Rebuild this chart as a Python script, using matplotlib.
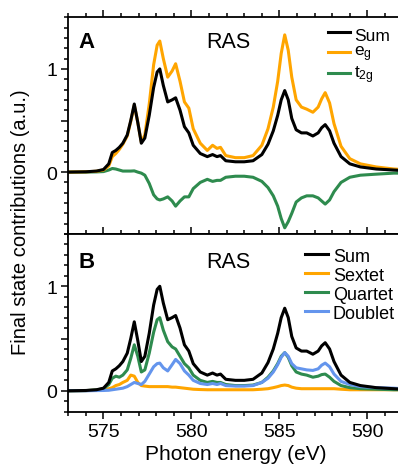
import numpy as np
import matplotlib
matplotlib.use("Agg")
import matplotlib.pyplot as plt
from matplotlib.ticker import MultipleLocator
from matplotlib.lines import Line2D

plt.rcParams['font.family'] = ['Liberation Sans', 'DejaVu Sans']
plt.rcParams['mathtext.fontset'] = 'custom'
plt.rcParams['mathtext.rm'] = 'Liberation Sans'
plt.rcParams['mathtext.it'] = 'Liberation Sans'

# photon energy grid (eV)
energy = [573.0, 574.0, 574.6, 575.0, 575.3, 575.5, 575.7, 575.9, 576.1, 576.35,
          576.55, 576.75, 576.95, 577.15, 577.35, 577.6, 577.85, 578.05, 578.2, 578.4,
          578.65, 578.9, 579.1, 579.35, 579.6, 579.85, 580.1, 580.5, 580.9, 581.2,
          581.45, 581.65, 581.95, 582.5, 583.0, 583.5, 584.0, 584.35, 584.65, 584.9,
          585.1, 585.3, 585.5, 585.7, 585.95, 586.25, 586.55, 586.9, 587.2, 587.4,
          587.6, 587.85, 588.1, 588.5, 589.0, 589.6, 590.5, 591.5, 592.0]

# panel A
sum_a = [0.0, 0.003, 0.01, 0.025, 0.08, 0.19, 0.21, 0.24, 0.28, 0.36,
         0.5, 0.66, 0.48, 0.28, 0.33, 0.55, 0.82, 0.97, 1.0, 0.84,
         0.68, 0.70, 0.72, 0.60, 0.44, 0.38, 0.26, 0.18, 0.15, 0.17,
         0.15, 0.16, 0.11, 0.10, 0.10, 0.11, 0.17, 0.27, 0.40, 0.55,
         0.70, 0.79, 0.70, 0.52, 0.41, 0.38, 0.38, 0.35, 0.38, 0.43,
         0.46, 0.40, 0.28, 0.15, 0.08, 0.05, 0.03, 0.02, 0.015]
eg = [0.0, 0.003, 0.008, 0.02, 0.06, 0.15, 0.18, 0.22, 0.27, 0.35,
      0.49, 0.65, 0.48, 0.29, 0.36, 0.66, 1.04, 1.23, 1.27, 1.10,
      0.92, 0.98, 1.05, 0.88, 0.68, 0.62, 0.42, 0.28, 0.21, 0.26,
      0.23, 0.24, 0.16, 0.14, 0.14, 0.16, 0.26, 0.42, 0.63, 0.88,
      1.15, 1.33, 1.18, 0.92, 0.70, 0.63, 0.61, 0.58, 0.63, 0.71,
      0.77, 0.67, 0.47, 0.25, 0.13, 0.08, 0.05, 0.03, 0.025]
t2g = [0.0, 0.0, 0.002, 0.005, 0.02, 0.035, 0.03, 0.02, 0.01, 0.01,
       0.01, 0.012, 0.0, -0.01, -0.03, -0.11, -0.22, -0.26, -0.27, -0.26,
       -0.24, -0.28, -0.33, -0.28, -0.24, -0.24, -0.16, -0.10, -0.07, -0.09,
       -0.08, -0.08, -0.05, -0.04, -0.04, -0.05, -0.09, -0.15, -0.23, -0.33,
       -0.45, -0.54, -0.48, -0.40, -0.29, -0.25, -0.23, -0.23, -0.25, -0.28,
       -0.31, -0.27, -0.19, -0.10, -0.05, -0.03, -0.02, -0.01, -0.01]

# panel B
sum_b = sum_a
sextet = [0.0, 0.002, 0.005, 0.01, 0.02, 0.03, 0.05, 0.06, 0.08, 0.10,
          0.15, 0.14, 0.08, 0.05, 0.045, 0.04, 0.04, 0.04, 0.04, 0.04,
          0.04, 0.035, 0.035, 0.03, 0.025, 0.02, 0.015, 0.012, 0.01, 0.01,
          0.01, 0.01, 0.01, 0.01, 0.01, 0.01, 0.015, 0.02, 0.03, 0.04,
          0.05, 0.055, 0.05, 0.035, 0.025, 0.02, 0.02, 0.02, 0.02, 0.02,
          0.02, 0.02, 0.02, 0.015, 0.01, 0.01, 0.01, 0.01, 0.01]
quartet = [0.0, 0.002, 0.008, 0.02, 0.06, 0.12, 0.14, 0.13, 0.15, 0.20,
           0.31, 0.44, 0.33, 0.18, 0.20, 0.36, 0.56, 0.68, 0.70, 0.58,
           0.47, 0.42, 0.40, 0.33, 0.26, 0.22, 0.15, 0.10, 0.08, 0.09,
           0.08, 0.08, 0.06, 0.05, 0.05, 0.055, 0.08, 0.13, 0.19, 0.26,
           0.33, 0.365, 0.32, 0.24, 0.18, 0.16, 0.15, 0.13, 0.14, 0.155,
           0.16, 0.13, 0.09, 0.05, 0.03, 0.02, 0.015, 0.01, 0.01]
doublet = [0.0, 0.0, 0.002, 0.003, 0.005, 0.01, 0.015, 0.02, 0.025, 0.04,
           0.06, 0.08, 0.07, 0.06, 0.09, 0.16, 0.23, 0.26, 0.265, 0.22,
           0.19, 0.25, 0.30, 0.26, 0.19, 0.15, 0.10, 0.07, 0.06, 0.07,
           0.06, 0.07, 0.05, 0.045, 0.045, 0.05, 0.08, 0.12, 0.18, 0.25,
           0.32, 0.365, 0.33, 0.26, 0.22, 0.21, 0.20, 0.195, 0.21, 0.245,
           0.265, 0.23, 0.16, 0.09, 0.06, 0.04, 0.03, 0.025, 0.02]

labels_a = ['Sum', 'e$_\\mathregular{g}$', 't$_\\mathregular{2g}$']
labels_b = ['Sum', 'Sextet', 'Quartet', 'Doublet']

c_orange = '#ffa500'
c_green = '#2e8b4e'
c_blue = '#6495ed'
lw = 2.2
W, H = 398, 477


def fx(px):
    return px / W


def fy(py):
    return 1 - py / H


fig = plt.figure(figsize=(W / 100, H / 100), dpi=100)
ax1 = fig.add_axes([0.1716, 0.5073, 0.840, 0.4543])
ax2 = fig.add_axes([0.1716, 0.1348, 0.840, 0.3725])

ax1.plot(energy, t2g, color=c_green, lw=lw)
ax1.plot(energy, eg, color=c_orange, lw=lw)
ax1.plot(energy, sum_a, color='black', lw=lw)
ax1.set_ylim(-0.6, 1.5)

ax2.plot(energy, sextet, color=c_orange, lw=lw)
ax2.plot(energy, quartet, color=c_green, lw=lw)
ax2.plot(energy, doublet, color=c_blue, lw=lw)
ax2.plot(energy, sum_b, color='black', lw=lw)
ax2.set_ylim(-0.2, 1.5)

for ax in (ax1, ax2):
    ax.set_xlim(573, 592)
    ax.xaxis.set_major_locator(MultipleLocator(5))
    ax.xaxis.set_minor_locator(MultipleLocator(1))
    ax.yaxis.set_minor_locator(MultipleLocator(0.1))
    ax.set_yticks([0, 0.5, 1])
    ax.set_yticklabels(['0', '', '1'])
    ax.tick_params(which='both', direction='out', width=1.1, labelsize=14,
                   top=True, right=False, colors='black', pad=3)
    ax.tick_params(which='major', length=5)
    ax.tick_params(which='minor', length=3)
    for sp in ax.spines.values():
        sp.set_linewidth(1.3)

ax1.tick_params(labelbottom=False)
ax2.set_xlabel('Photon energy (eV)', fontsize=15, labelpad=3)
fig.text(fx(21), fy(222), 'Final state contributions (a.u.)', rotation=90,
         fontsize=14.5, ha='center', va='center')

# panel letters and titles
fig.text(fx(78), fy(47.5), 'A', fontsize=16, fontweight='bold', va='baseline')
fig.text(fx(206), fy(47.7), 'RAS', fontsize=15.5, va='baseline')
fig.text(fx(78), fy(267.7), 'B', fontsize=16, fontweight='bold', va='baseline')
fig.text(fx(206), fy(268.3), 'RAS', fontsize=15.5, va='baseline')

# legends, drawn row by row
rows_a = [(labels_a[0], 'black', 33.3, 40.7),
          (labels_a[1], c_orange, 52.5, 56.5),
          (labels_a[2], c_green, 73.5, 78.5)]
for lab, col, ly, by in rows_a:
    fig.add_artist(Line2D([fx(328), fx(350)], [fy(ly), fy(ly)], color=col, lw=lw))
    fig.text(fx(354), fy(by), lab, fontsize=12.5, va='baseline')

rows_b = [(labels_b[0], 'black'), (labels_b[1], c_orange),
          (labels_b[2], c_green), (labels_b[3], c_blue)]
for i, (lab, col) in enumerate(rows_b):
    by = 261.7 + 19.1 * i
    fig.add_artist(Line2D([fx(305), fx(328)], [fy(by - 6.7), fy(by - 6.7)],
                          color=col, lw=lw))
    fig.text(fx(333), fy(by), lab, fontsize=13, va='baseline')

fig.savefig('out.png', dpi=100)
